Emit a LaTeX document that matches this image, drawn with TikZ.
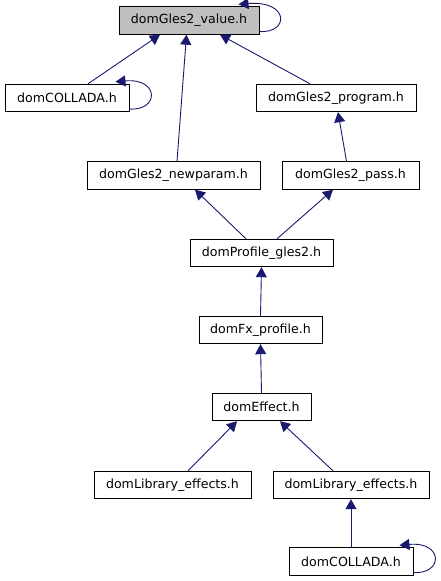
\documentclass[tikz,border=0pt]{standalone}
\usepackage{fontspec}
\setmainfont{DejaVu Sans}
\usetikzlibrary{arrows.meta}
\definecolor{edgecol}{HTML}{191970}
\definecolor{hl}{HTML}{BFBFBF}
\tikzset{
  box/.style={draw=black, line width=0.9pt, inner sep=0pt, minimum height=27.5pt, font=\fontsize{12.6}{14}\selectfont, anchor=center},
  edge/.style={draw=edgecol, line width=0.9pt, -{Triangle[length=10pt,width=11pt]}},
}
\begin{document}
\begin{tikzpicture}[x=1pt,y=-1pt]
\useasboundingbox (0,0) rectangle (441,581);
\node[box, fill=hl, minimum width=140pt] (val) at (189,20.5) {domGles2\_value.h};
\node[box, minimum width=124pt] (colA) at (67,98) {domCOLLADA.h};
\node[box, minimum width=160pt] (prog) at (336,98) {domGles2\_program.h};
\node[box, minimum width=173pt] (newp) at (173.5,175.5) {domGles2\_newparam.h};
\node[box, minimum width=137pt] (pass) at (350.5,175.5) {domGles2\_pass.h};
\node[box, minimum width=143pt] (prof) at (261.5,253) {domProfile\_gles2.h};
\node[box, minimum width=123pt] (fx) at (260.5,330) {domFx\_profile.h};
\node[box, minimum width=99pt] (eff) at (261.5,407) {domEffect.h};
\node[box, minimum width=157pt] (libL) at (172.5,485) {domLibrary\_effects.h};
\node[box, minimum width=156pt] (libR) at (351,485) {domLibrary\_effects.h};
\node[box, minimum width=124pt] (colB) at (351,561.5) {domCOLLADA.h};

% edges
\draw[edge] ([xshift=21pt]colA.north) -- ([xshift=-29pt]val.south);
\draw[edge] ([xshift=3.5pt]newp.north) -- ([xshift=-2.5pt]val.south);
\draw[edge] ([xshift=-26pt]prog.north) -- ([xshift=31pt]val.south);
\draw[edge] ([xshift=-4pt]pass.north) -- ([xshift=2pt]prog.south);
\draw[edge] ([xshift=-15.5pt]prof.north) -- ([xshift=21.5pt]newp.south);
\draw[edge] ([xshift=15.5pt]prof.north) -- ([xshift=-17.5pt]pass.south);
\draw[edge] (fx.north) -- (prof.south);
\draw[edge] (eff.north) -- (fx.south);
\draw[edge] ([xshift=15.5pt]libL.north) -- ([xshift=-24.5pt]eff.south);
\draw[edge] ([xshift=-18pt]libR.north) -- ([xshift=18.5pt]eff.south);
\draw[edge] (colB.north) -- (libR.south);

% self loops
\draw[edge] ([yshift=-11pt]val.east) .. controls ++(30,2) and ([xshift=30pt,yshift=6pt]val.north east) .. ([xshift=-21pt,yshift=2pt]val.north east);
\draw[edge] ([yshift=-11pt]colA.east) .. controls ++(30,2) and ([xshift=30pt,yshift=6pt]colA.north east) .. ([xshift=-14pt,yshift=2pt]colA.north east);
\draw[edge] ([yshift=-11pt]colB.east) .. controls ++(30,2) and ([xshift=30pt,yshift=6pt]colB.north east) .. ([xshift=-14pt,yshift=2pt]colB.north east);
\end{tikzpicture}
\end{document}
